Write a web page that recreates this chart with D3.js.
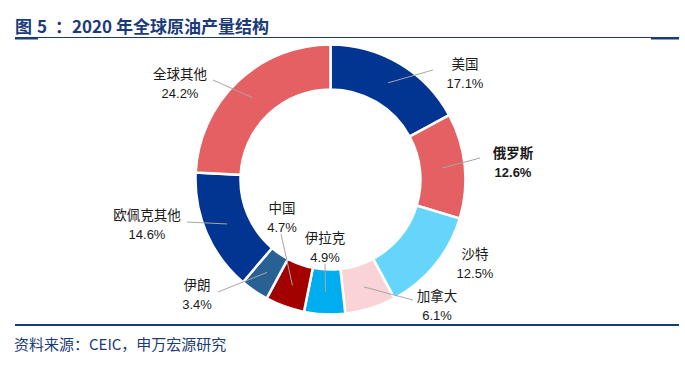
<!DOCTYPE html>
<html><head><meta charset="utf-8">
<script src="https://cdn.jsdelivr.net/npm/d3@7"></script>
<style>
html,body{margin:0;padding:0;background:#fff;}
svg{display:block;}
</style></head>
<body>
<svg id="chart" width="685" height="369"></svg>
<script>
// ---- data ----
const categories = ["美国","俄罗斯","沙特","加拿大","伊拉克","中国","伊朗","欧佩克其他","全球其他"];
const shares = [17.1, 12.6, 12.5, 6.1, 4.9, 4.7, 3.4, 14.6, 24.2];
const valueLabels = ["17.1%","12.6%","12.5%","6.1%","4.9%","4.7%","3.4%","14.6%","24.2%"];
const titleParts = ["图", "5", "：", "2020", "年全球原油产量结构"];
const sourceText = "资料来源：CEIC，申万宏源研究";

// ---- styling / layout (separate from data) ----
const colors = ["#023592","#E46062","#66D5FC","#F9D3D5","#00AEEF","#A30000","#2A6194","#023592","#E46062"];
const boldLabels = {"俄罗斯": true};
const titlePartX = [15, 37, 55, 72, 116];
// label anchor [x, y of first line]; leader label-end [x,y] or null
const labelPos = {
  "美国": [465, 64], "俄罗斯": [513, 153], "沙特": [475, 254], "加拿大": [437, 296],
  "伊拉克": [325, 238], "中国": [282, 208], "伊朗": [197, 285], "欧佩克其他": [147, 215], "全球其他": [180, 74]
};
const leaderEnd = {
  "美国": [433, 70], "俄罗斯": [480, 158], "沙特": null, "加拿大": [413, 300],
  "伊拉克": [325, 264], "中国": [281, 234], "伊朗": [218, 292], "欧佩克其他": [187, 222], "全球其他": [213, 80]
};

const svg = d3.select("#chart");
const navy = "#1B3A7A";
const font = "'Liberation Sans','Noto Sans CJK SC',sans-serif";
const cjk = "'Noto Sans CJK SC','Liberation Sans',sans-serif";

// title
const title = svg.append("text").attr("y", 32.5)
  .attr("font-family", cjk).attr("font-weight", "bold").attr("font-size", 17).attr("fill", navy);
titleParts.forEach((t, i) => {
  title.append("tspan").attr("x", titlePartX[i]).text(t);
});
svg.append("line").attr("x1", 15).attr("x2", 679).attr("y1", 37.5).attr("y2", 37.5)
  .attr("stroke", navy).attr("stroke-width", 1);
svg.append("line").attr("x1", 15).attr("x2", 38).attr("y1", 38.5).attr("y2", 38.5)
  .attr("stroke", navy).attr("stroke-width", 2);
svg.append("line").attr("x1", 651).attr("x2", 679).attr("y1", 38.5).attr("y2", 38.5)
  .attr("stroke", navy).attr("stroke-width", 2);

// bottom rule + source
svg.append("line").attr("x1", 15).attr("x2", 679).attr("y1", 325).attr("y2", 325)
  .attr("stroke", navy).attr("stroke-width", 2.2);
svg.append("text").attr("x", 14).attr("y", 343).attr("dominant-baseline", "central")
  .attr("font-family", cjk).attr("font-size", 15).attr("fill", navy).text(sourceText);

// donut
const cx = 330.5, cy = 179.5, rOuter = 135, rInner = 90;
const data = categories.map((c, i) => ({name: c, value: shares[i], label: valueLabels[i], color: colors[i]}));
const pie = d3.pie().value(d => d.value).sort(null);
const arc = d3.arc().innerRadius(rInner).outerRadius(rOuter);
const arcs = pie(data);
const g = svg.append("g").attr("transform", `translate(${cx},${cy})`);
g.selectAll("path").data(arcs).join("path")
  .attr("d", arc).attr("fill", d => d.data.color)
  .attr("stroke", "#fff").attr("stroke-width", 2.5).attr("stroke-linejoin", "miter");

// leaders
arcs.forEach(a => {
  const end = leaderEnd[a.data.name];
  if (!end) return;
  const c = arc.centroid(a);
  svg.append("line")
    .attr("x1", cx + c[0]).attr("y1", cy + c[1])
    .attr("x2", end[0]).attr("y2", end[1])
    .attr("stroke", "#A6A6A6").attr("stroke-width", 1);
});

// labels
arcs.forEach(a => {
  const p = labelPos[a.data.name];
  const bold = boldLabels[a.data.name] ? "bold" : "normal";
  const t = svg.append("text").attr("text-anchor", "middle")
    .attr("font-family", font).attr("font-size", 13).attr("fill", "#1a1a1a")
    .attr("font-weight", bold);
  t.append("tspan").attr("x", p[0]).attr("y", p[1]).attr("dominant-baseline", "central")
    .attr("font-size", 13.5).text(a.data.name);
  t.append("tspan").attr("x", p[0]).attr("y", p[1] + 19).attr("dominant-baseline", "central")
    .text(a.data.label);
});
</script>
</body></html>
